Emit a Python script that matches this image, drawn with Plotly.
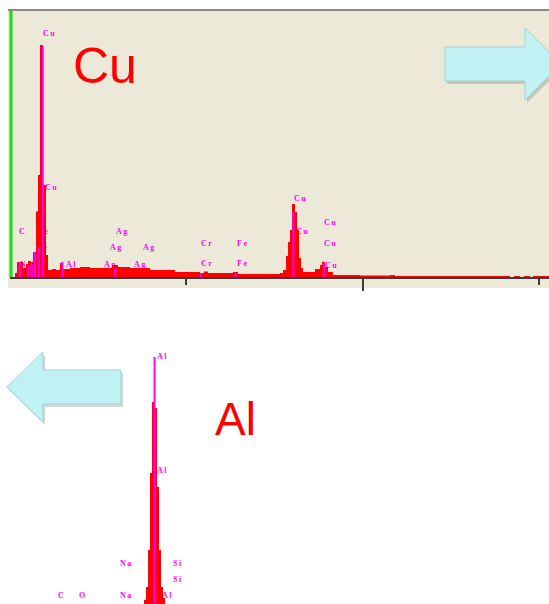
import plotly.graph_objects as go

W, H = 549, 604

# ---------------- Cu sample spectrum (keV, counts) ----------------
cu_energy = [0.000, 0.142, 0.199, 0.369, 0.454, 0.511, 0.596, 0.652, 0.738, 0.794,
             0.851, 0.936, 1.021, 1.078, 1.191, 1.305, 1.418, 1.504, 1.702, 1.986,
             2.270, 2.553, 2.894, 3.064, 3.404, 3.972, 4.681, 5.390, 5.504, 5.617,
             6.326, 6.468, 7.092, 7.660, 7.745, 7.830, 7.887, 7.943, 8.000, 8.085,
             8.142, 8.199, 8.255, 8.312, 8.652, 8.794, 8.851, 8.936, 9.021, 9.163,
             9.929, 10.780, 10.922, 14.184, 14.298, 14.468, 14.582, 14.752, 14.837, 15.291]
cu_counts = [0, 40, 150, 90, 130, 160, 150, 250, 650, 1020,
             2320, 920, 220, 70, 80, 70, 140, 80, 90, 100,
             90, 90, 120, 100, 90, 70, 50, 40, 55, 40,
             50, 30, 30, 40, 70, 210, 350, 470, 730, 650,
             470, 190, 90, 50, 80, 120, 150, 100, 50, 20,
             15, 20, 10, 0, 10, 0, 10, 0, 10, 10]

# element line markers for the Cu sample
cu_line_energy = [0.277, 0.525, 0.615, 0.705, 0.811, 0.930, 1.487, 2.984, 5.411, 6.400, 8.040, 8.905]
cu_line_height = [150, 120, 140, 250, 300, 2310, 150, 90, 40, 40, 650, 140]

# peak labels for the Cu sample
cu_label_text = ["Cu", "Cu", "Fe", "C", "Fe", "Fe", "N", "Ag", "Ag", "Ag", "Al", "Ag", "Ag",
                 "Cr", "Cr", "Fe", "Fe", "Cu", "Cu", "Cu", "Cu", "Cu"]
cu_label_energy = [0.936, 0.993, 0.738, 0.255, 0.794, 0.766, 0.284, 3.007, 2.837, 3.773, 1.589,
                   2.667, 3.518, 5.418, 5.418, 6.440, 6.440, 8.057, 8.113, 8.908, 8.908, 8.936]
cu_label_level = [2430, 890, 620, 450, 450, 290, 120, 450, 290, 290, 120,
                  120, 120, 330, 130, 330, 130, 780, 450, 540, 330, 110]

# ---------------- Al sample spectrum (keV, counts) ----------------
al_energy = [0.000, 1.358, 1.382, 1.407, 1.431, 1.456, 1.480, 1.517, 1.542, 1.566, 1.591, 1.615, 6.3]
al_counts = [0, 40, 170, 540, 1310, 2020, 1960, 1170, 540, 170, 60, 0, 0]

al_line_energy = [1.487]
al_line_height = [2470]

al_label_text = ["Al", "Al", "Na", "Si", "Si", "C", "O", "Na", "Al"]
al_label_energy = [1.517, 1.517, 1.064, 1.713, 1.713, 0.304, 0.561, 1.064, 1.578]
al_label_level = [2470, 1330, 400, 400, 240, 80, 80, 80, 80]

RED = "#FF0000"
MAGENTA = "#FF00FF"
BEIGE = "#ECE9D8"
LABEL_FONT = dict(family="Liberation Serif", size=8, color=MAGENTA, weight="bold")


def px(x):
    return x / W


def py(y):
    return 1 - y / H


def spaced(t):
    return '<span style="letter-spacing:1.5px">' + t + "</span>"


def marker_lines(energy, height):
    xs, ys = [], []
    for e, h in zip(energy, height):
        xs += [e, e, None]
        ys += [0, h, None]
    return xs, ys


fig = go.Figure()

# labels sit underneath the spectrum
fig.add_trace(go.Scatter(x=cu_label_energy, y=cu_label_level, mode="text",
                         text=[spaced(t) for t in cu_label_text], textposition="middle right",
                         textfont=LABEL_FONT, xaxis="x", yaxis="y", hoverinfo="skip"))
fig.add_trace(go.Scatter(x=cu_energy, y=cu_counts, mode="lines", line=dict(width=0, shape="hv"),
                         fill="tozeroy", fillcolor=RED, xaxis="x", yaxis="y"))
mx, my = marker_lines(cu_line_energy, cu_line_height)
fig.add_trace(go.Scatter(x=mx, y=my, mode="lines", line=dict(color=MAGENTA, width=2),
                         xaxis="x", yaxis="y"))

fig.add_trace(go.Scatter(x=al_label_energy, y=al_label_level, mode="text",
                         text=[spaced(t) for t in al_label_text], textposition="middle right",
                         textfont=LABEL_FONT, xaxis="x2", yaxis="y2", hoverinfo="skip"))
fig.add_trace(go.Scatter(x=al_energy, y=al_counts, mode="lines", line=dict(width=0, shape="hv"),
                         fill="tozeroy", fillcolor=RED, xaxis="x2", yaxis="y2"))
mx2, my2 = marker_lines(al_line_energy, al_line_height)
fig.add_trace(go.Scatter(x=mx2, y=my2, mode="lines", line=dict(color=MAGENTA, width=2),
                         xaxis="x2", yaxis="y2"))

shapes = []
# panel background and frame of the Cu spectrum window
shapes.append(dict(type="rect", xref="paper", yref="paper", x0=px(8), x1=px(549), y0=py(288), y1=py(10),
                   fillcolor=BEIGE, line=dict(width=0), layer="below"))
shapes.append(dict(type="line", xref="paper", yref="paper", x0=px(8), x1=px(549), y0=py(10), y1=py(10),
                   line=dict(color="#8E8B7E", width=2)))
shapes.append(dict(type="line", xref="paper", yref="paper", x0=px(11), x1=px(11), y0=py(277), y1=py(11),
                   line=dict(color="#12E012", width=3)))


def arrow_path(pts):
    return "M " + " L ".join(f"{px(x):.5f},{py(y):.5f}" for x, y in pts) + " Z"


right_arrow = [(445, 47), (525, 47), (525, 28), (561, 64), (525, 100), (525, 81), (445, 81)]
left_arrow = [(7, 387), (43, 352), (43, 370), (121, 370), (121, 404), (43, 404), (43, 422)]
for pts in (right_arrow, left_arrow):
    shadow = [(x + 2, y + 3) for x, y in pts]
    shapes.append(dict(type="path", xref="paper", yref="paper", path=arrow_path(shadow),
                       fillcolor="rgba(90,90,80,0.25)", line=dict(width=0)))
    shapes.append(dict(type="path", xref="paper", yref="paper", path=arrow_path(pts),
                       fillcolor="#C0F2F4", line=dict(color="#9ED4D8", width=1)))

annotations = [
    dict(text="Cu", xref="paper", yref="paper", x=px(105), y=py(66), xanchor="center", yanchor="middle",
         showarrow=False, font=dict(family="Liberation Sans", size=50, color=RED)),
    dict(text="Al", xref="paper", yref="paper", x=px(235), y=py(419), xanchor="center", yanchor="middle",
         showarrow=False, font=dict(family="Liberation Sans", size=46, color=RED)),
]

fig.update_layout(
    width=W, height=H, margin=dict(l=0, r=0, t=0, b=0),
    paper_bgcolor="white", plot_bgcolor="rgba(0,0,0,0)",
    showlegend=False, shapes=shapes, annotations=annotations,
    xaxis=dict(domain=[px(10), 1], range=[0, 15.29], showgrid=False, zeroline=False,
               showline=True, linecolor="#3C3C3C", linewidth=2, ticks="outside",
               tickvals=[10], ticklen=12, tickwidth=2, tickcolor="#3C3C3C", showticklabels=False,
               minor=dict(tickvals=[5, 15], ticks="outside", ticklen=6, tickwidth=2, tickcolor="#3C3C3C"),
               fixedrange=True),
    yaxis=dict(domain=[py(277), py(11)], range=[0, 2660], visible=False, fixedrange=True),
    xaxis2=dict(domain=[0, 1], range=[-0.4069, 6.321], visible=False, anchor="y2", fixedrange=True),
    yaxis2=dict(domain=[0, py(300)], range=[0, 3040], visible=False, anchor="x2", fixedrange=True),
)

fig.write_html("out.html")
